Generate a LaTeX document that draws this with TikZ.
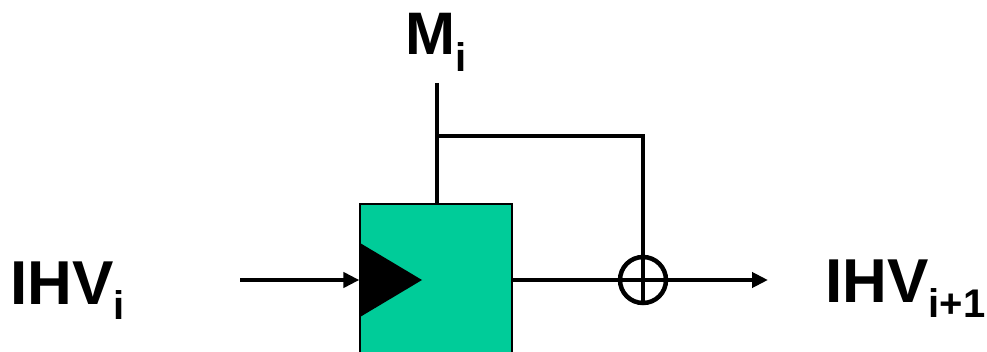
\documentclass[tikz,border=0pt]{standalone}
\usepackage{fontspec}
\setmainfont{Liberation Sans}
\usetikzlibrary{arrows.meta}
\definecolor{regfill}{RGB}{0,204,153}
\newcommand{\bigtxt}[2]{{\fontsize{62}{62}\selectfont\bfseries #1\raisebox{-15pt}{\fontsize{40}{40}\selectfont\bfseries #2}}}
\begin{document}
\begin{tikzpicture}[x=1pt,y=-1pt,
  wire/.style={line width=4.5pt},
  arr/.style={wire,-{Triangle[length=16pt,width=15pt]}},
  lbl/.style={inner sep=0pt,anchor=base west}]
\useasboundingbox (0,0) rectangle (987,352);
\clip (0,0) rectangle (987,352);
% register box
\node[draw=black,line width=1.2pt,fill=regfill,minimum width=152pt,minimum height=190pt,inner sep=0pt] (reg) at (436,299) {};
% clock triangle
\fill (360,243) -- (422,280) -- (360,317) -- cycle;
% xor
\node[draw,circle,line width=4.5pt,minimum size=46pt,inner sep=0pt] (xor) at (643,280) {};
\draw[line width=4pt] (xor.north) -- (xor.south);
\draw[line width=4pt] (xor.west) -- (xor.east);
% coordinates
\coordinate (in) at (240,280);
\coordinate (out) at (768,280);
\coordinate (mtop) at (437,83);
\coordinate (br) at (437,136);
\coordinate (brc) at (643,136);
% connectors
\draw[arr] (in) -- (reg.west |- in);
\draw[wire] (mtop) -- (mtop |- reg.north);
\draw[wire,line join=miter] (br) -- (brc) -- (xor.north);
\draw[wire] (reg.east |- xor) -- (xor.west);
\draw[arr] (xor.east) -- (out);
% labels
\node[lbl] (ihvi) at (10,305) {\bigtxt{IHV}{i}};
\node[lbl] (ihvo) at (825,303) {\bigtxt{IHV}{i+1}};
\node[lbl] (mi) at (405,55) {{\fontsize{60}{60}\selectfont\bfseries M\raisebox{-17pt}{\fontsize{40}{40}\selectfont\bfseries i}}};
\end{tikzpicture}
\end{document}
